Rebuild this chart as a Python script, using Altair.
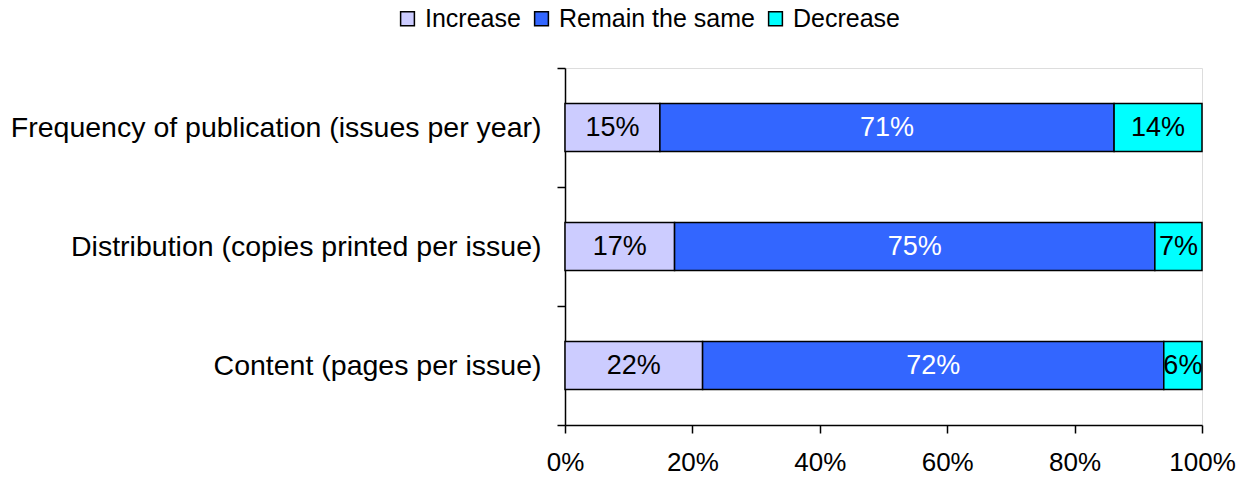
import altair as alt
import pandas as pd

categories = [
    "Frequency of publication (issues per year)",
    "Distribution (copies printed per issue)",
    "Content (pages per issue)",
]
series = ["Increase", "Remain the same", "Decrease"]
increase = [14.9, 17.2, 21.6]
remain = [71.3, 75.4, 72.4]
decrease = [13.8, 7.4, 6.0]
colors = ["#CCCCFF", "#3366FF", "#00FFFF"]
text_colors = ["black", "white", "black"]

rows = []
for i, cat in enumerate(categories):
    start = 0.0
    for s, vals, tc in zip(series, [increase, remain, decrease], text_colors):
        v = vals[i]
        rows.append({
            "category": cat,
            "series": s,
            "value": v,
            "start": start / 100,
            "end": (start + v) / 100,
            "mid": (start + v / 2) / 100,
            "label": f"{round(v)}%",
            "tcolor": tc,
        })
        start += v
df = pd.DataFrame(rows)
df["order"] = df["series"].map({s: i for i, s in enumerate(series)})

FONT = "Liberation Sans"

y_enc = alt.Y(
    "category:N",
    sort=categories,
    scale=alt.Scale(paddingInner=0, paddingOuter=0),
    axis=alt.Axis(
        title=None,
        tickBand="extent",
        labelFontSize=28.5,
        labelFont=FONT,
        labelColor="black",
        labelPadding=16,
        tickSize=8,
        tickColor="black",
        domainColor="black",
        tickWidth=1.5,
        domainWidth=1.5,
        labelLimit=700,
        grid=False,
    ),
)

bars = alt.Chart(df).mark_bar(stroke="black", strokeWidth=1.5, height=48).encode(
    y=y_enc,
    x=alt.X(
        "start:Q",
        scale=alt.Scale(domain=[0, 1], nice=False),
        axis=alt.Axis(
            title=None,
            format="%",
            values=[0, 0.2, 0.4, 0.6, 0.8, 1.0],
            labelFontSize=26,
            labelFont=FONT,
            labelColor="black",
            labelPadding=16,
            tickSize=8,
            tickColor="black",
            domainColor="black",
            tickWidth=1.5,
            domainWidth=1.5,
            grid=False,
            labelFlush=False,
        ),
    ),
    x2="end:Q",
    color=alt.Color(
        "series:N",
        sort=series,
        scale=alt.Scale(domain=series, range=colors),
        legend=alt.Legend(
            title=None,
            orient="none",
            direction="horizontal",
            legendX=-170,
            legendY=-62,
            symbolType="square",
            symbolSize=190,
            symbolStrokeColor="black",
            symbolStrokeWidth=1.5,
            symbolOpacity=1,
            labelFontSize=25,
            labelFont=FONT,
            labelColor="black",
            labelLimit=400,
            columnPadding=8,
            labelOffset=5,
        ),
    ),
    order="order:Q",
)

text = alt.Chart(df).mark_text(fontSize=27, font=FONT).encode(
    y=alt.Y("category:N", sort=categories),
    x=alt.X("mid:Q"),
    text="label:N",
    color=alt.Color("tcolor:N", scale=None, legend=None),
)

chart = (
    alt.layer(bars, text)
    .resolve_scale(color="independent")
    .properties(
        width=637,
        height=357,
        padding={"left": 565, "top": 68, "right": 45, "bottom": 52},
        autosize=alt.AutoSizeParams(type="none"),
    )
    .configure_view(stroke="transparent", strokeWidth=0)
    .configure_axis(grid=False)
    .configure(background="white")
)

chart.save("out.html", embed_options={"renderer": "svg", "actions": False})
